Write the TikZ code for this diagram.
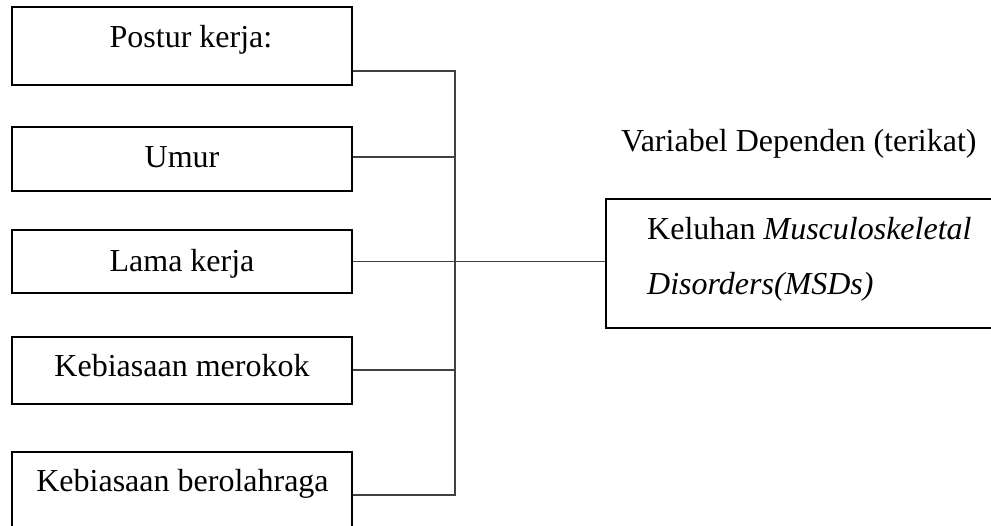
\documentclass[tikz,border=0pt]{standalone}
\usepackage{fontspec}
\setmainfont{Liberation Serif}
\begin{document}
\begin{tikzpicture}[x=1pt,y=-1pt,
  box/.style={draw=black,line width=2.9pt,rectangle,inner sep=0pt},
  lbl/.style={anchor=base,inner sep=0pt,font=\fontsize{32}{38}\selectfont},
  wire/.style={draw=black!75,line width=1.3pt}]
\clip (0,0) rectangle (991,526);
% left boxes
\node[box,minimum width=340pt,minimum height=78pt] (b1) at (182,46) {};
\node[box,minimum width=340pt,minimum height=64pt] (b2) at (182,159) {};
\node[box,minimum width=340pt,minimum height=63pt] (b3) at (182,261.5) {};
\node[box,minimum width=340pt,minimum height=67pt] (b4) at (182,370.5) {};
\node[box,minimum width=340pt,minimum height=90pt] (b5) at (182,497) {};
% right box
\node[box,minimum width=420pt,minimum height=129pt] (rb) at (816,263.5) {};
% texts
\node[lbl] (t1) at (191,48) {Postur kerja:};
\node[lbl] (t2) at (182,168) {Umur};
\node[lbl] (t3) at (182,272) {Lama kerja};
\node[lbl] (t4) at (182,377) {Kebiasaan merokok};
\node[lbl] (t5) at (182.5,492) {Kebiasaan berolahraga};
\node[lbl,anchor=base west] (tv) at (621,152) {Variabel Dependen (terikat)};
\node[lbl,anchor=base west] (tk1) at (647,240) {Keluhan \textit{Musculoskeletal}};
\node[lbl,anchor=base west] (tk2) at (647,295) {\textit{Disorders(MSDs)}};
% spine
\coordinate (j1) at (455,71);
\coordinate (j2) at (455,157);
\coordinate (j4) at (455,370);
\coordinate (j5) at (455,495);
\draw[wire] (b1.east |- j1) -- (j1) -- (j5) -- (b5.east |- j5);
\draw[wire] (b2.east |- j2) -- (j2);
\draw[wire] (b4.east |- j4) -- (j4);
\draw[wire] (b3.east) -- (b3.east -| rb.west);
\end{tikzpicture}
\end{document}
